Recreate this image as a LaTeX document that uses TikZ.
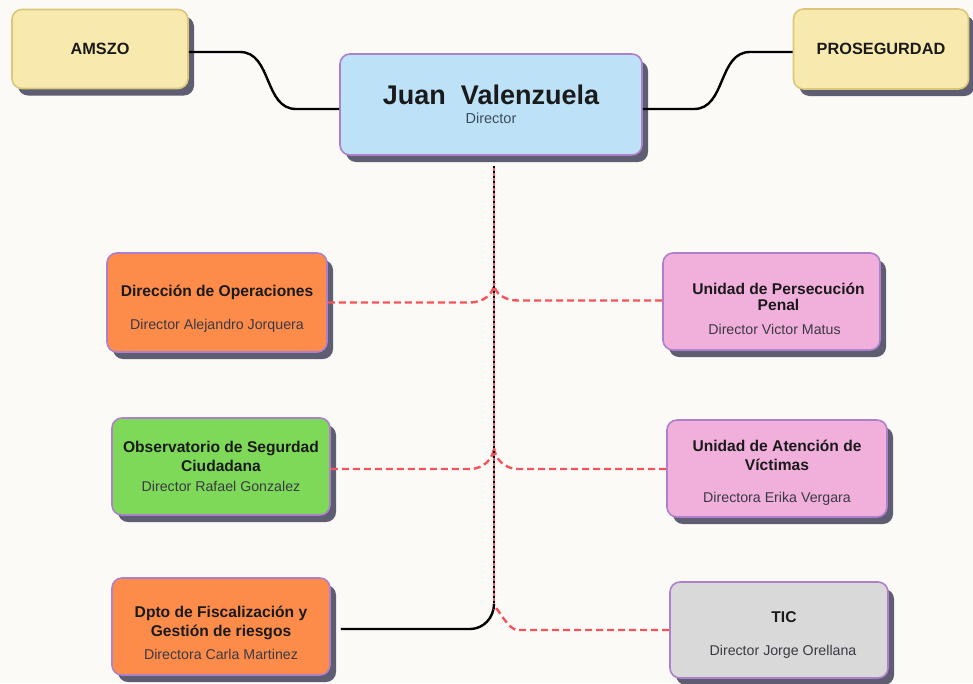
\documentclass[tikz,border=0pt]{standalone}
\usepackage{fontspec}
\setmainfont{Liberation Sans}
\usetikzlibrary{shadows}
\definecolor{bgc}{HTML}{FBFAF7}
\definecolor{cyel}{HTML}{F8EAAE}
\definecolor{cyelb}{HTML}{D9C77C}
\definecolor{cblue}{HTML}{BDE2F8}
\definecolor{corange}{HTML}{FD8C4A}
\definecolor{cgreen}{HTML}{7DD957}
\definecolor{cpink}{HTML}{F1AFDC}
\definecolor{cgray}{HTML}{D9D9D9}
\definecolor{cborder}{HTML}{AE80CC}
\definecolor{cshadow}{HTML}{5E5D72}
\definecolor{cred}{HTML}{F2545B}
\definecolor{ctxt}{HTML}{1A1A1A}
\definecolor{csub}{HTML}{3A3A44}
\tikzset{
  basebox/.style={rounded corners=10pt, line width=1.6pt, align=center, text=ctxt,
    drop shadow={shadow xshift=6pt, shadow yshift=-7pt, fill=cshadow, opacity=1}},
  ybox/.style={basebox, draw=cyelb, fill=cyel, font=\fontsize{16.3}{19}\selectfont\bfseries},
  cbox/.style={basebox, draw=cborder, font=\fontsize{15.6}{19}\selectfont\bfseries},
  blk/.style={draw=black, line width=2.4pt},
  reddash/.style={draw=cred, line width=2.4pt, dash pattern=on 7pt off 4pt},
  spinered/.style={draw=cred, line width=2.6pt},
  spineblk/.style={draw=black, line width=1.1pt, dash pattern=on 2pt off 3pt}
}
\newcommand{\subt}[1]{{\fontsize{14.2}{16}\selectfont\mdseries\color{csub}#1}}
\newcommand{\dn}[1]{\rule{0pt}{#1}}
\begin{document}
\begin{tikzpicture}[x=1pt,y=-1pt]
\fill[bgc] (0,0) rectangle (973,683);
\useasboundingbox (0,0) rectangle (973,683);

% helper coordinates
\coordinate (j1) at (494,283);
\coordinate (j2) at (494,446);
\coordinate (j3) at (494,604);
\coordinate (xl) at (470,0);
\coordinate (xr) at (518,0);
\coordinate (ka1) at (240,52);
\coordinate (ka2) at (296,109);
\coordinate (kp1) at (694,109);
\coordinate (kp2) at (750,52);

% nodes
\node[ybox, minimum width=176pt, minimum height=79pt] (amszo) at (100,49) {AMSZO};
\node[ybox, minimum width=175pt, minimum height=80pt] (pros) at (881,49) {PROSEGURDAD};
\node[cbox, fill=cblue, minimum width=302pt, minimum height=101pt] (juan) at (491,104.5)
  {{\fontsize{27}{28}\selectfont Juan\ \ Valenzuela}\\[0pt]{\fontsize{14.5}{16}\selectfont\mdseries\color[HTML]{3D4C5C}Director}};

\node[cbox, fill=corange, minimum width=220pt, minimum height=99pt] (b1) at (217,302.5)
  {\dn{24pt}Dirección de Operaciones\\[14pt]\subt{Director Alejandro Jorquera}};
\node[cbox, fill=cgreen, minimum width=218pt, minimum height=97pt] (b2) at (221,466.5)
  {Observatorio de Segurdad\\Ciudadana\\[1pt]\subt{Director Rafael Gonzalez}};
\node[cbox, fill=corange, minimum width=218pt, minimum height=97pt] (b3) at (221,626.5)
  {\dn{24pt}Dpto de Fiscalización y\\Gestión de riesgos\\[4pt]\subt{Directora Carla Martinez}};

\node[cbox, fill=cpink, minimum width=217pt, minimum height=97pt] (r1) at (771.5,301.5)
  {\dn{26pt}\hspace*{14pt}Unidad de Persecución\\[-3pt]\hspace*{14pt}Penal\\[5pt]\hspace*{6pt}\subt{Director Victor Matus}};
\node[cbox, fill=cpink, minimum width=220pt, minimum height=97pt] (r2) at (777,468.5)
  {\dn{20pt}Unidad de Atención de\\Víctimas\\[13pt]\subt{Directora Erika Vergara}};
\node[cbox, fill=cgray, minimum width=218pt, minimum height=96pt] (r3) at (779,630)
  {\dn{21.5pt}\hspace*{10pt}TIC\\[14pt]\hspace*{8pt}\subt{Director Jorge Orellana}};

% connectors
\draw[blk] ([yshift=-3pt]amszo.east) -- (ka1) .. controls +(32,0) and +(-32,0) .. (ka2) -- ([yshift=-4.5pt]juan.west);
\draw[blk] ([yshift=-4.5pt]juan.east) -- (kp1) .. controls +(32,0) and +(-32,0) .. (kp2) -- ([yshift=-3pt]pros.west);
\draw[blk] ([xshift=10pt,yshift=-2.5pt]b3.east) -- ([yshift=-2.5pt]b3.east -| xl) to[out=0,in=-90] (j3);
\draw[reddash] (b1.east) -- (b1.east -| xl) to[out=0,in=-90] (j1);
\draw[reddash] ([yshift=1pt]r1.west) -- ([yshift=1pt]r1.west -| xr) to[out=180,in=-90] (j1);
\draw[reddash] ([yshift=-2.5pt]b2.east) -- ([yshift=-2.5pt]b2.east -| xl) to[out=0,in=-90] (j2);
\draw[reddash] ([yshift=-0.5pt]r2.west) -- ([yshift=-0.5pt]r2.west -| xr) to[out=180,in=-90] (j2);
\draw[reddash] (r3.west) -- (r3.west -| xr) to[out=180,in=90] ([yshift=-6pt]j3);
\draw[spinered] ([yshift=-10pt]juan.south -| j1) -- (j3);
\draw[spineblk] ([yshift=-10pt]juan.south -| j1) -- (j3);
\end{tikzpicture}
\end{document}
